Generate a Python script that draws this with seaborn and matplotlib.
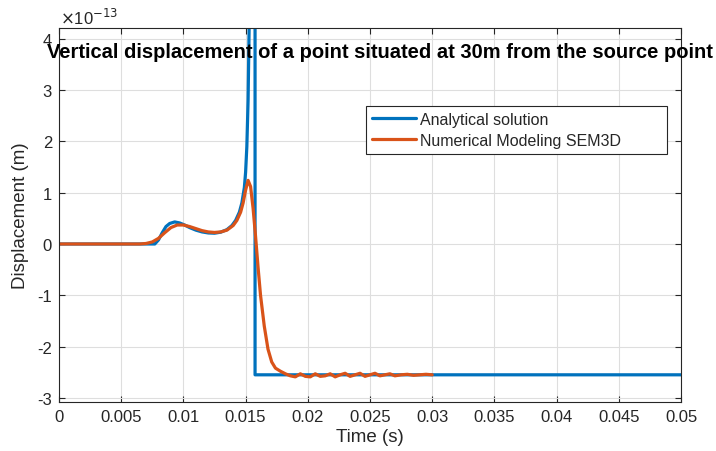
import numpy as np
import pandas as pd
import matplotlib
matplotlib.use("Agg")
import matplotlib.pyplot as plt
import seaborn as sns

# Time samples (s) and vertical displacement (units of 1e-13 m)
t_analytical = [0.0, 0.0077, 0.0080, 0.0083, 0.0086, 0.0089, 0.0093, 0.0097,
                0.0101, 0.0105, 0.0110, 0.0115, 0.0120, 0.0125, 0.0130, 0.0135,
                0.0139, 0.0142, 0.0145, 0.0147, 0.0149, 0.0150, 0.0151, 0.0152,
                0.0153, 0.0154, 0.01576, 0.01576, 0.0500]
u_analytical = [0.0, 0.0, 0.08, 0.22, 0.34, 0.40, 0.43, 0.41,
                0.37, 0.32, 0.27, 0.235, 0.215, 0.21, 0.23, 0.28,
                0.36, 0.46, 0.62, 0.80, 1.10, 1.40, 1.90, 2.80,
                4.5, 8.0, 8.0, -2.55, -2.55]

t_numerical = [0.0, 0.0065, 0.0070, 0.0075, 0.0080, 0.0085, 0.0090, 0.0095,
               0.0100, 0.0105, 0.0110, 0.0115, 0.0120, 0.0125, 0.0130, 0.0135,
               0.0140, 0.0143, 0.0146, 0.0148, 0.0150, 0.0152, 0.0154, 0.0156,
               0.0158, 0.0160, 0.0162, 0.0165, 0.0168, 0.0171, 0.0174, 0.0178,
               0.0182, 0.0186, 0.0190, 0.0194, 0.0198, 0.0202, 0.0206, 0.0210,
               0.0214, 0.0218, 0.0222, 0.0226, 0.0230, 0.0234, 0.0238, 0.0242,
               0.0246, 0.0250, 0.0254, 0.0258, 0.0262, 0.0266, 0.0270, 0.0275,
               0.0280, 0.0285, 0.0290, 0.0295, 0.0300]
u_numerical = [0.0, 0.0, 0.01, 0.04, 0.11, 0.22, 0.32, 0.37,
               0.37, 0.34, 0.30, 0.26, 0.235, 0.225, 0.235, 0.27,
               0.36, 0.46, 0.62, 0.80, 1.05, 1.24, 1.12, 0.70,
               0.15, -0.45, -1.00, -1.60, -2.05, -2.30, -2.42, -2.48,
               -2.53, -2.57, -2.59, -2.53, -2.58, -2.59, -2.53, -2.58,
               -2.57, -2.53, -2.59, -2.55, -2.52, -2.58, -2.55, -2.52,
               -2.58, -2.55, -2.52, -2.57, -2.55, -2.53, -2.57, -2.55,
               -2.54, -2.56, -2.55, -2.54, -2.55]

x_ticks = [0, 0.005, 0.01, 0.015, 0.02, 0.025, 0.03, 0.035, 0.04, 0.045, 0.05]
x_tick_labels = ["0", "0.005", "0.01", "0.015", "0.02", "0.025", "0.03",
                 "0.035", "0.04", "0.045", "0.05"]
y_ticks = [-3, -2, -1, 0, 1, 2, 3, 4]

label_analytical = "Analytical solution"
label_numerical = "Numerical Modeling SEM3D"
title = "Vertical displacement of a point situated at 30m from the source point"

df_a = pd.DataFrame({"t": t_analytical, "u": u_analytical})
df_n = pd.DataFrame({"t": t_numerical, "u": u_numerical})

sns.set_theme(style="ticks")
plt.rcParams["font.family"] = ["Liberation Sans", "DejaVu Sans"]
plt.rcParams["axes.unicode_minus"] = False

fig = plt.figure(figsize=(7.16, 4.52), dpi=100)
ax = fig.add_axes([59 / 716, 1 - 403 / 452, (681 - 59) / 716, (403 - 29) / 452])

blue = "#0072BD"
orange = "#D95319"

sns.lineplot(data=df_a, x="t", y="u", ax=ax, color=blue, linewidth=2.3,
             estimator=None, sort=False, label=label_analytical)
sns.lineplot(data=df_n, x="t", y="u", ax=ax, color=orange, linewidth=2.3,
             estimator=None, sort=False, label=label_numerical)

ax.set_xlim(0, 0.05)
ax.set_ylim(-3.08, 4.21)
ax.set_xticks(x_ticks)
ax.set_xticklabels(x_tick_labels)
ax.set_yticks(y_ticks)
ax.set_yticklabels([str(v) for v in y_ticks])

ax.grid(True, color="#dedede", linewidth=0.8)
ax.set_axisbelow(True)
for s in ax.spines.values():
    s.set_color("#262626")
    s.set_linewidth(0.8)
    s.set_visible(True)
ax.tick_params(direction="in", length=4, width=0.8, color="#262626",
               labelsize=12, labelcolor="#262626", top=True, right=True,
               pad=5)

ax.set_xlabel("Time (s)", fontsize=13.5, color="#262626", labelpad=3)
ax.set_ylabel("Displacement (m)", fontsize=13.5, color="#262626", labelpad=6)

fig.text(60 / 716, 1 - 18 / 452, r"$\times$10$^{-13}$", fontsize=12,
         color="#262626", va="center", ha="left")

fig.text(379.5 / 716, 1 - 53 / 452, title, fontsize=14.5, fontweight="bold",
         ha="center", va="center", color="black")

leg = ax.legend(loc="upper left",
                bbox_to_anchor=((366 - 59) / 622, (403 - 107) / 374, 301 / 622, 0.0),
                mode="expand", frameon=True, fancybox=False, framealpha=1,
                edgecolor="#262626", fontsize=11.5, handlelength=2.8,
                handletextpad=0.25, labelspacing=0.4, borderpad=0.35,
                borderaxespad=0.0)
leg.get_frame().set_linewidth(0.8)

fig.savefig("out.png", dpi=100)
